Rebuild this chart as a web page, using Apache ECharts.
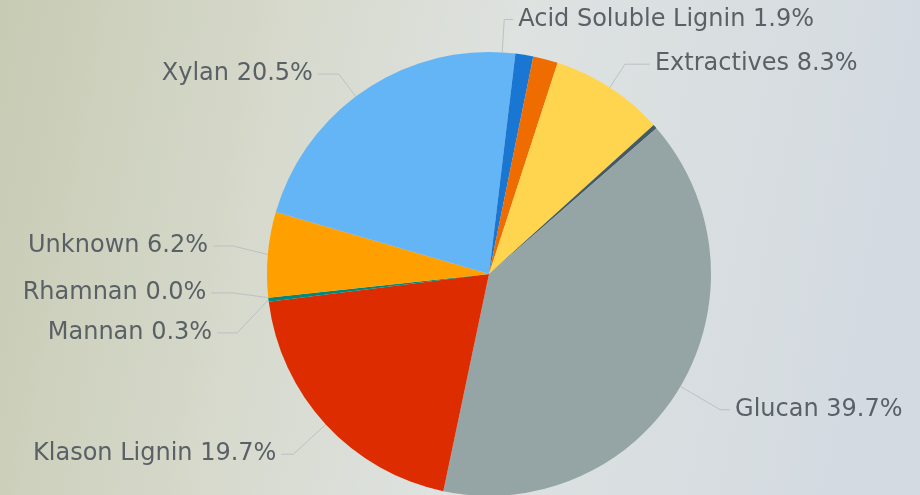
<!DOCTYPE html>
<html>
<head>
<meta charset="utf-8">
<script src="https://cdn.jsdelivr.net/npm/echarts@6/dist/echarts.min.js"></script>
<style>
  html, body { margin: 0; padding: 0; }
  #chart { width: 920px; height: 495px; }
</style>
</head>
<body>
<div id="chart"></div>
<script>
// Biomass composition (% of dry weight)
const components = ['Acid Soluble Lignin', 'Arabinan', 'Ash', 'Extractives', 'Galactan',
  'Glucan', 'Klason Lignin', 'Mannan', 'Rhamnan', 'Unknown', 'Xylan'];
const shares = [1.9, 1.3, 1.8, 8.3, 0.3, 39.7, 19.7, 0.3, 0.0, 6.2, 20.5];
// Components whose labels are left off (too narrow to annotate)
const unlabeled = ['Arabinan', 'Ash', 'Galactan'];
const palette = ['#64b5f6', '#1976d2', '#ef6c00', '#ffd54f', '#455a64',
  '#95a5a6', '#dd2c00', '#00897b', '#7b1fa2', '#ffa000'];

// Per-label connector lengths, plus a vertical nudge for the crowded left-hand labels
const labelTweaks = {
  'Acid Soluble Lignin': { length: 33, length2: 9 },
  'Extractives': { length: 28, length2: 25 },
  'Glucan': { length: 46, length2: 10 },
  'Klason Lignin': { length: 44, length2: 12 },
  'Mannan': { length2: 20, dy: 5 },
  'Rhamnan': { length2: 22, dy: -9 },
  'Unknown': { length2: 20, dy: -5 },
  'Xylan': { length: 28, length2: 21 }
};

const chart = echarts.init(document.getElementById('chart'));

const data = components.map((name, i) => {
  const item = { name: name, value: shares[i], itemStyle: { color: palette[i % palette.length] } };
  if (unlabeled.includes(name)) {
    item.label = { show: false };
    item.labelLine = { show: false };
  } else if (labelTweaks[name]) {
    const t = labelTweaks[name];
    item.labelLine = {};
    if (t.length != null) item.labelLine.length = t.length;
    if (t.length2 != null) item.labelLine.length2 = t.length2;
  }
  return item;
});

chart.setOption({
  backgroundColor: {
    type: 'linear', x: 0, y: 0, x2: 1, y2: 0.35,
    colorStops: [
      { offset: 0, color: '#c7cbb3' },
      { offset: 0.3, color: '#d6d9cb' },
      { offset: 0.55, color: '#dee2e0' },
      { offset: 1, color: '#d3dae1' }
    ]
  },
  animation: false,
  series: [{
    type: 'pie',
    center: [489, 274],
    radius: 222,
    startAngle: 90,
    clockwise: true,
    data: data,
    itemStyle: { borderWidth: 0 },
    label: {
      show: true,
      fontFamily: 'DejaVu Sans',
      fontSize: 24,
      color: '#5a6166',
      formatter: p => p.name + ' ' + p.value.toFixed(1) + '%'
    },
    labelLine: {
      show: true,
      length: 40,
      length2: 18,
      lineStyle: { color: '#bcc1c3', width: 1 }
    },
    labelLayout: function (params) {
      const name = components[params.dataIndex];
      const t = labelTweaks[name];
      if (!t || !t.dy || !params.labelLinePoints) return {};
      const pts = params.labelLinePoints.map(p => [p[0], p[1]]);
      for (let k = 1; k < pts.length; k++) pts[k][1] += t.dy;
      const r = params.labelRect;
      return {
        y: r.y + r.height / 2 + t.dy,
        verticalAlign: 'middle',
        labelLinePoints: pts
      };
    }
  }]
});
</script>
</body>
</html>
